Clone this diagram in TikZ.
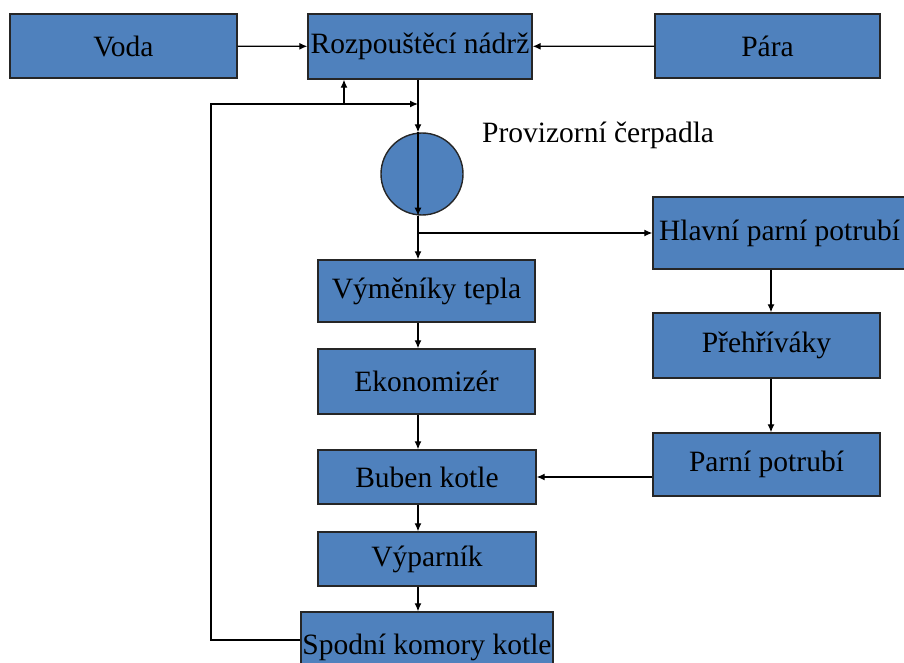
\documentclass[tikz,border=0pt]{standalone}
\usepackage{fontspec}
\setmainfont{Liberation Serif}
\usepackage{xcolor}
\usepackage{tikz}
\usetikzlibrary{arrows.meta, positioning, calc}

\definecolor{boxblue}{HTML}{4F81BD}

\begin{document}
\begin{tikzpicture}[
    x=1pt, y=-1pt,
    block/.style={rectangle, draw=black!85, fill=boxblue, line width=1.4pt,
      inner sep=0pt, minimum width=227pt, minimum height=64pt,
      font=\fontsize{29.5}{32}\selectfont},
    pumpnode/.style={circle, draw=black!85, fill=boxblue, line width=1.4pt,
      minimum size=82pt, inner sep=0pt},
    arrow/.style={-{Latex[length=8pt,width=7pt]}, line width=1.2pt},
    caption/.style={font=\fontsize{29.5}{32}\selectfont, inner sep=0pt},
]
\useasboundingbox (0,0) rectangle (904,663);
\clip (0,0) rectangle (904,663);

% ── Top row ──
\node[block] (voda) at (123.5,46) {Voda};
\node[block, minimum width=224pt, minimum height=65pt] (rozp) at (420,46.5)
  {Rozpouštěcí nádrž};
\node[block, minimum width=225pt] (para) at (767.5,46) {Pára};

% ── Pump ──
\node[pumpnode] (pump) at (422,174) {};
\node[caption, anchor=base west] (pumplabel) at (482,143)
  {Provizorní čerpadla};

% ── Boiler column ──
\node[block, minimum width=217pt, minimum height=62pt] (vym) at (426.5,291)
  {Výměníky tepla};
\node[block, minimum width=217pt, minimum height=65pt] (eko) at (426.5,381.5)
  {Ekonomizér};
\node[block, minimum width=218pt, minimum height=54pt] (buben) at (427,477)
  {Buben kotle};
\node[block, minimum width=218pt, minimum height=54pt] (vypar) at (427,559)
  {Výparník};
\node[block, minimum width=252pt, minimum height=68pt, text depth=4pt] (spodni)
  at (427,646) {Spodní komory kotle};

% ── Steam column ──
\node[block, minimum width=253pt, minimum height=72pt] (hlavni) at (779.5,233)
  {Hlavní parní potrubí};
\node[block, minimum height=65pt] (preh) at (766.5,345.5) {Přehříváky};
\node[block, minimum height=63pt] (parni) at (766.5,464.5) {Parní potrubí};

% ── Helper coordinates ──
\coordinate (trunk) at (418,0);
\coordinate (rcol) at (771,0);
\coordinate (loop) at (211,104);
\coordinate (tap) at (344,104);

% ── Inflows to tank ──
\draw[arrow] (voda) -- (rozp);
\draw[arrow] (para) -- (rozp);

% ── Main trunk ──
\draw[arrow] (rozp.south -| trunk) -- (pump.north -| trunk);
\draw[arrow] (pump.north -| trunk) -- (pump.south -| trunk);
\draw[arrow] (pump.south -| trunk) -- (vym.north -| trunk);
\draw[arrow] (hlavni.west -| trunk) -- (hlavni.west);
\draw[arrow] (vym.south -| trunk) -- (eko.north -| trunk);
\draw[arrow] (eko.south -| trunk) -- (buben.north -| trunk);
\draw[arrow] (buben.south -| trunk) -- (vypar.north -| trunk);
\draw[arrow] (vypar.south -| trunk) -- (spodni.north -| trunk);

% ── Steam side ──
\draw[arrow] (hlavni.south -| rcol) -- (preh.north -| rcol);
\draw[arrow] (preh.south -| rcol) -- (parni.north -| rcol);
\draw[arrow] (buben.east -| parni.west) -- (buben.east);

% ── Return loop ──
\draw[arrow] (spodni.west |- 0,640) -| (loop) -- (loop -| trunk);
\draw[arrow] (tap) -- (tap |- rozp.south);

\end{tikzpicture}
\end{document}
